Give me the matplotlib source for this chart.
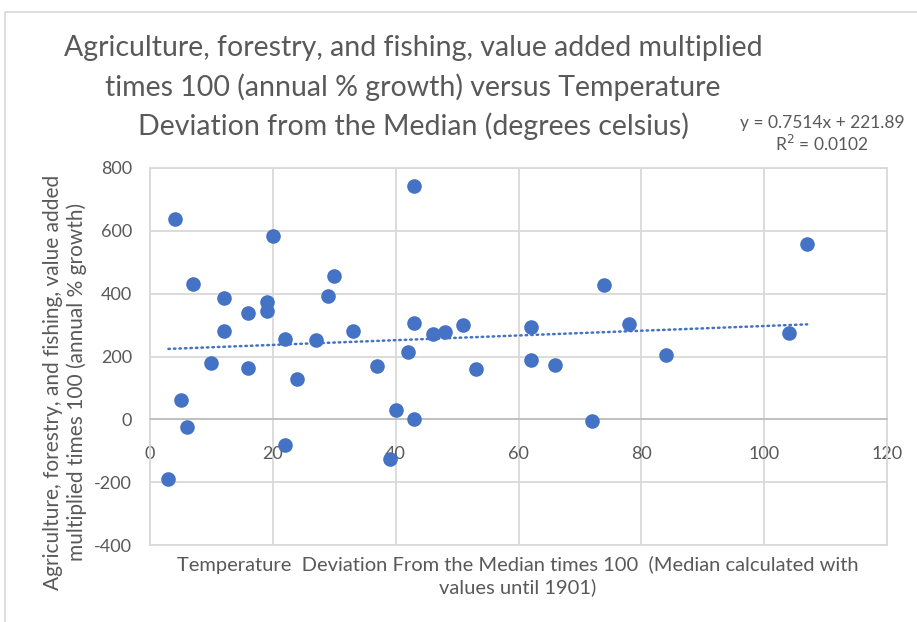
import numpy as np
import matplotlib.pyplot as plt
from matplotlib.patches import Rectangle

# ==========================================================
# 1. data
# ==========================================================
temp_dev = [4, 43, 20, 7, 30, 12, 29, 19, 19, 16,
            12, 33, 43, 46, 48, 51, 22, 27, 42, 107,
            74, 62, 78, 104, 62, 66, 84, 72, 5, 6,
            3, 10, 16, 24, 22, 37, 40, 43, 39, 53]
agri_growth = [637, 744, 583, 430, 456, 386, 392, 372, 345, 339,
               281, 281, 308, 272, 278, 299, 255, 251, 215, 557,
               428, 293, 305, 274, 190, 174, 204, -4, 63, -25,
               -189, 179, 164, 127, -82, 170, 29, 2, -125, 160]

slope, intercept, r2 = 0.7514, 221.89, 0.0102

title_lines = ["Agriculture, forestry, and fishing, value added multiplied",
               "times 100 (annual % growth) versus Temperature",
               "Deviation from the Median (degrees celsius)"]

blue = '#4472C4'
txt = '#595959'
grid_c = '#D9D9D9'
plt.rcParams['font.family'] = ['Lato', 'DejaVu Sans']
plt.rcParams['axes.unicode_minus'] = False

# ==========================================================
# 2. figure
# ==========================================================
fig = plt.figure(figsize=(9.17, 6.22), dpi=100)
fig.patches.append(Rectangle((5 / 917, -0.1), 1.2, 1.1 - 12 / 622, transform=fig.transFigure,
                             fill=False, edgecolor=grid_c, lw=1.2))

ax = fig.add_axes([150 / 917, 1 - 545 / 622, 737 / 917, 377 / 622])
ax.scatter(temp_dev, agri_growth, s=90, color=blue, zorder=5, clip_on=False)

# linear trendline over the data range
xt = np.array([min(temp_dev), max(temp_dev)])
ax.plot(xt, slope * xt + intercept, color=blue, lw=1.8, ls=(0, (0.6, 1.6)),
        dash_capstyle='round', zorder=4)

ax.set_xlim(0, 120)
ax.set_ylim(-400, 800)
ax.set_xticks(range(0, 121, 20))
ax.set_yticks(range(-400, 801, 200))
ax.grid(True, color=grid_c, lw=1.3)
ax.set_axisbelow(True)

for s in ['top', 'right', 'left']:
    ax.spines[s].set_color(grid_c)
    ax.spines[s].set_linewidth(1.3)
ax.spines['bottom'].set_position(('data', 0))
ax.spines['bottom'].set_color('#BFBFBF')
ax.spines['bottom'].set_linewidth(1.3)
ax.plot([0, 120], [-400, -400], color=grid_c, lw=1.3, clip_on=False, zorder=1)

ax.tick_params(axis='both', length=0, labelsize=13, labelcolor=txt)
ax.tick_params(axis='x', pad=19)
ax.tick_params(axis='y', pad=13)

# ==========================================================
# 3. texts
# ==========================================================
for i, line in enumerate(title_lines):
    fig.text(413 / 917, 1 - (48 + 39 * i) / 622, line,
             ha='center', va='center', fontsize=20.5, color=txt)

fig.text(65 / 917, 1 - 382 / 622,
         "Agriculture, forestry, and fishing, value added\nmultiplied times 100 (annual % growth)",
         ha='center', va='center', rotation=90, fontsize=15, color=txt, linespacing=1.15)

fig.text(518 / 917, 1 - 576 / 622,
         "Temperature  Deviation From the Median times 100  (Median calculated with\nvalues until 1901)",
         ha='center', va='center', fontsize=14.5, color=txt, linespacing=1.25)

fig.text(822 / 917, 1 - 123 / 622, f"y = {slope}x + {intercept}",
         ha='center', va='center', fontsize=12.5, color=txt)
fig.text(822 / 917, 1 - 144 / 622, f"R$^2$ = {r2}",
         ha='center', va='center', fontsize=12.5, color=txt)

fig.savefig('out.png', dpi=100)
